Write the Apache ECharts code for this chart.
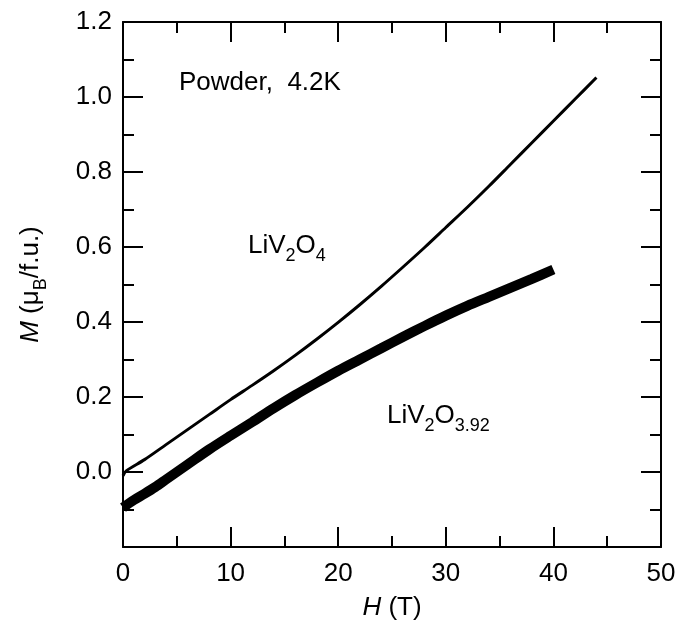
<!DOCTYPE html>
<html>
<head>
<meta charset="utf-8">
<script src="https://cdn.jsdelivr.net/npm/echarts@6/dist/echarts.min.js"></script>
<style>
  html, body { margin: 0; padding: 0; background: #fff; }
  #chart { width: 680px; height: 637px; }
</style>
</head>
<body>
<div id="chart"></div>
<script>
// H (T) and M (muB/f.u.)
var h_LiV2O4 = [0, 0.3, 2, 4, 6, 8, 10, 12, 14, 16, 18, 20, 22, 24, 26, 28, 30, 32, 34, 36, 38, 40, 42, 44];
var m_LiV2O4 = [-0.01, 0.003, 0.033, 0.073, 0.113, 0.153, 0.193, 0.231, 0.270, 0.311, 0.354, 0.399, 0.446, 0.495, 0.546, 0.598, 0.652, 0.706, 0.762, 0.820, 0.878, 0.936, 0.994, 1.052];

var h_LiV2O392 = [0, 1, 2, 3, 4, 6, 8, 10, 12, 14, 16, 18, 20, 22, 24, 26, 28, 30, 32, 34, 36, 38, 40];
var m_LiV2O392 = [-0.095, -0.075, -0.058, -0.040, -0.02, 0.02, 0.06, 0.097, 0.133, 0.17, 0.205, 0.238, 0.27, 0.30, 0.330, 0.360, 0.389, 0.417, 0.443, 0.467, 0.491, 0.515, 0.54];

var xTicks = { min: 0, max: 50, interval: 10 };
var yTicks = { min: -0.2, max: 1.2, interval: 0.2 };

var annotations = {
  sample: 'Powder,  4.2K',
  s1: 'LiV{sub|2}O{sub|4}',
  s2: 'LiV{sub|2}O{sub|3.92}'
};

function pairs(xs, ys) { return xs.map(function (x, i) { return [x, ys[i]]; }); }

var FONT = '"Liberation Sans", Arial, Helvetica, sans-serif';
var FS = 26;
var SUB = 18;
var subRich = { sub: { fontSize: SUB, fontFamily: FONT, color: '#000', padding: [20, 0, 0, 0] } };

var axisLineStyle = { show: true, onZero: false, lineStyle: { color: '#000', width: 2 } };
var tickStyle = { show: true, inside: true, length: 20, lineStyle: { color: '#000', width: 2 } };
var minorTickStyle = { show: true, splitNumber: 2, length: 11, lineStyle: { color: '#000', width: 2 } };

var chart = echarts.init(document.getElementById('chart'), null, { renderer: 'canvas' });
chart.setOption({
  animation: false,
  backgroundColor: '#fff',
  grid: { left: 123, right: 19, top: 22, bottom: 90, containLabel: false },
  xAxis: [{
    type: 'value', position: 'bottom', min: xTicks.min, max: xTicks.max, interval: xTicks.interval,
    name: '{i|H} (T)', nameLocation: 'middle', nameGap: 48,
    nameTextStyle: { fontSize: FS, fontFamily: FONT, color: '#000', rich: { i: { fontStyle: 'italic', fontSize: FS, fontFamily: FONT, color: '#000' } } },
    axisLine: axisLineStyle, axisTick: tickStyle, minorTick: minorTickStyle,
    axisLabel: { fontSize: FS, fontFamily: FONT, color: '#000', margin: 14 },
    splitLine: { show: false }
  }, {
    type: 'value', position: 'top', min: xTicks.min, max: xTicks.max, interval: xTicks.interval,
    axisLine: axisLineStyle, axisTick: tickStyle, minorTick: minorTickStyle,
    axisLabel: { show: false }, splitLine: { show: false }
  }],
  yAxis: [{
    type: 'value', position: 'left', min: yTicks.min, max: yTicks.max, interval: yTicks.interval,
    name: '{i|M} (μ{sub|B}/f.u.)', nameLocation: 'middle', nameGap: 73, nameRotate: 90,
    nameTextStyle: { fontSize: FS, fontFamily: FONT, color: '#000',
      rich: { i: { fontStyle: 'italic', fontSize: FS, fontFamily: FONT, color: '#000' },
              sub: { fontSize: SUB, fontFamily: FONT, color: '#000', padding: [20, 0, 0, 0] } } },
    axisLine: axisLineStyle, axisTick: tickStyle, minorTick: minorTickStyle,
    axisLabel: { fontSize: FS, fontFamily: FONT, color: '#000', margin: 11,
      formatter: function (v) { return v < -0.05 ? '' : v.toFixed(1); } },
    splitLine: { show: false }
  }, {
    type: 'value', position: 'right', min: yTicks.min, max: yTicks.max, interval: yTicks.interval,
    axisLine: axisLineStyle, axisTick: tickStyle, minorTick: minorTickStyle,
    axisLabel: { show: false }, splitLine: { show: false }
  }],
  series: [{
    name: 'LiV2O4', type: 'line', xAxisIndex: 0, yAxisIndex: 0,
    data: pairs(h_LiV2O4, m_LiV2O4), showSymbol: false, smooth: 0.3,
    lineStyle: { color: '#000', width: 3 }
  }, {
    name: 'LiV2O3.92', type: 'line', xAxisIndex: 0, yAxisIndex: 0,
    data: pairs(h_LiV2O392, m_LiV2O392), showSymbol: false, smooth: 0.3,
    lineStyle: { color: '#000', width: 10 }
  }],
  graphic: [{
    type: 'text', x: 179, y: 83,
    style: { text: annotations.sample, font: FS + 'px ' + FONT, fill: '#000', textAlign: 'left', textVerticalAlign: 'middle' }
  }, {
    type: 'text', x: 248, y: 246,
    style: { text: annotations.s1, fontSize: FS, fontFamily: FONT, fill: '#000', textAlign: 'left', textVerticalAlign: 'middle', rich: subRich }
  }, {
    type: 'text', x: 387, y: 416,
    style: { text: annotations.s2, fontSize: FS, fontFamily: FONT, fill: '#000', textAlign: 'left', textVerticalAlign: 'middle', rich: subRich }
  }]
});
</script>
</body>
</html>
